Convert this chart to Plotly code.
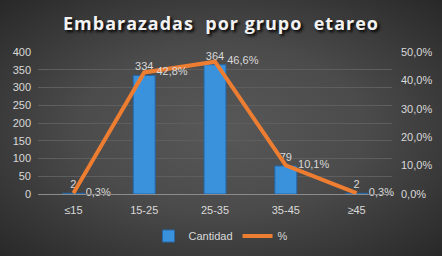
import base64
import plotly.graph_objects as go

categories = ["≤15", "15-25", "25-35", "35-45", "≥45"]
cantidad = [2, 334, 364, 79, 2]
porcentaje = [0.003, 0.428, 0.466, 0.101, 0.003]
pct_labels = ["0,3%", "42,8%", "46,6%", "10,1%", "0,3%"]

W, H = 442, 256
ML, MR, MT, MB = 38, 50, 52, 62
PW, PH = W - ML - MR, H - MT - MB

svg = f'''<svg xmlns="http://www.w3.org/2000/svg" width="{W}" height="{H}" viewBox="0 0 {W} {H}" preserveAspectRatio="none">
<defs><radialGradient id="g" cx="50%" cy="50%" r="72%">
<stop offset="0%" stop-color="#585858"/><stop offset="45%" stop-color="#4b4b4b"/><stop offset="100%" stop-color="#272727"/></radialGradient></defs>
<rect width="{W}" height="{H}" fill="url(#g)"/></svg>'''
bg = "data:image/svg+xml;base64," + base64.b64encode(svg.encode()).decode()

txt = "#d9d9d9"
font = "Liberation Sans"
title_text = "Embarazadas\u00a0\u00a0por grupo\u00a0\u00a0etareo"

fig = go.Figure()
fig.add_trace(go.Bar(
    x=categories, y=cantidad, name="Cantidad",
    marker=dict(color="#3b92dc", line=dict(color="#2566a8", width=1)),
    width=0.31,
    text=[str(v) for v in cantidad], textposition="outside",
    textfont=dict(color=txt, size=11, family=font),
    cliponaxis=False,
))
fig.add_trace(go.Scatter(
    x=categories, y=porcentaje, name="%", yaxis="y2",
    mode="lines+markers+text", line=dict(color="#ED7D31", width=4),
    marker=dict(size=18, color="rgba(0,0,0,0)", line=dict(width=0)),
    text=pct_labels, textposition="middle right",
    textfont=dict(color=txt, size=11, family=font),
    cliponaxis=False,
))

fig.update_layout(
    width=W, height=H,
    margin=dict(l=ML, r=MR, t=MT, b=MB, autoexpand=False),
    paper_bgcolor="#3a3a3a", plot_bgcolor="rgba(0,0,0,0)",
    separators=",.",
    title=dict(text=f'<span style="letter-spacing:1px"><b>{title_text}</b></span>',
               x=0.5, xanchor="center", y=1 - 24 / H, yanchor="middle",
               font=dict(family="Open Sans", size=18, color="#f2f2f2", shadow="2px 2px 3px #000")),
    font=dict(family=font, size=11, color=txt),
    xaxis=dict(showgrid=False, showline=True, linecolor="#8c8c8c", linewidth=1,
               tickfont=dict(color=txt, size=11), ticks="", ticklabelstandoff=6),
    yaxis=dict(range=[0, 400], dtick=50, showgrid=True, gridcolor="#5e5e5e", gridwidth=1,
               zeroline=False, tickfont=dict(color=txt, size=11), ticks="", ticklabelstandoff=6),
    yaxis2=dict(range=[0, 0.5], dtick=0.1, tickformat=".1%", overlaying="y", side="right",
                showgrid=False, zeroline=False, tickfont=dict(color=txt, size=11), ticks="",
                ticklabelstandoff=8),
    legend=dict(orientation="h", x=0.5, xanchor="center", xref="container",
                y=1 - 236 / H, yanchor="middle", yref="container",
                font=dict(color=txt, size=11), bgcolor="rgba(0,0,0,0)"),
    showlegend=True,
    images=[dict(source=bg, xref="paper", yref="paper",
                 x=-ML / PW, y=1 + MT / PH, sizex=W / PW, sizey=H / PH,
                 sizing="stretch", layer="below", xanchor="left", yanchor="top")],
)
fig.write_html("out.html", config={"displayModeBar": False},
               post_script="document.body.style.margin='0';document.body.style.padding='0';"
                           "document.body.style.background='#272727';")
